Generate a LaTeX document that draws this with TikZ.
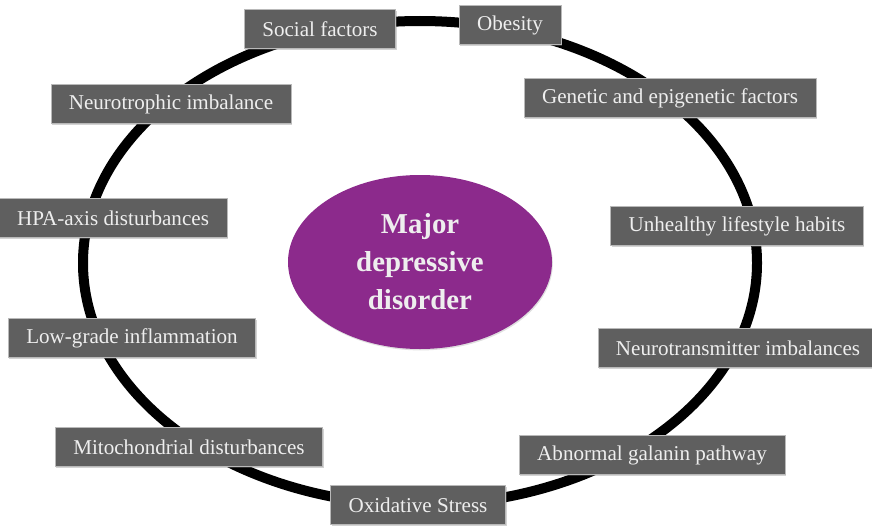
\documentclass[tikz,border=0pt]{standalone}
\usepackage{fontspec}
\setmainfont{Liberation Serif}
\usetikzlibrary{shadows,shapes.geometric}
\definecolor{boxgray}{RGB}{95,95,95}
\definecolor{boxtext}{RGB}{238,238,238}
\definecolor{mddpurple}{RGB}{140,42,140}
\begin{document}
\begin{tikzpicture}
		\tikzstyle{every node}=[font=\fontsize{15}{18}\selectfont]
		\tikzstyle{factor}=[draw=gray!55, thin, fill=boxgray, text=boxtext, inner xsep=0.45cm, minimum height=0.97cm, drop shadow={opacity=0.35, shadow xshift=0.8pt, shadow yshift=-1.2pt}]
		
		\useasboundingbox (0,0) rectangle (21.8,13.15);
		
		% ring
		\draw [line width=0.25cm, color=black] (10.5,6.575) ellipse (8.425cm and 6.05cm);
		
		% centre
		\node (mdd) [ellipse, fill=mddpurple, minimum width=6.6cm, minimum height=4.35cm, text=boxtext, align=center, font=\bfseries\fontsize{20.5}{27}\selectfont, drop shadow={opacity=0.25, shadow xshift=0.6pt, shadow yshift=-1pt}] at (10.5,6.6) {Major\\depressive\\disorder};
		
		% factors
		\node (social) [factor] at (8.0,12.425) {Social factors};
		\node (obesity) [factor] at (12.75,12.525) {Obesity};
		\node (neurotrophic) [factor] at (4.275,10.55) {Neurotrophic imbalance};
		\node (genetic) [factor] at (16.75,10.7) {Genetic and epigenetic factors};
		\node (hpa) [factor] at (2.825,7.7) {HPA-axis disturbances};
		\node (lifestyle) [factor] at (18.425,7.5) {Unhealthy lifestyle habits};
		\node (inflammation) [factor] at (3.3,4.7) {Low-grade inflammation};
		\node (transmitter) [factor] at (18.45,4.45) {Neurotransmitter imbalances};
		\node (mito) [factor] at (4.725,1.975) {Mitochondrial disturbances};
		\node (galanin) [factor] at (16.3,1.775) {Abnormal galanin pathway};
		\node (oxidative) [factor] at (10.45,0.525) {Oxidative Stress};
		
		\end{tikzpicture}
\end{document}
